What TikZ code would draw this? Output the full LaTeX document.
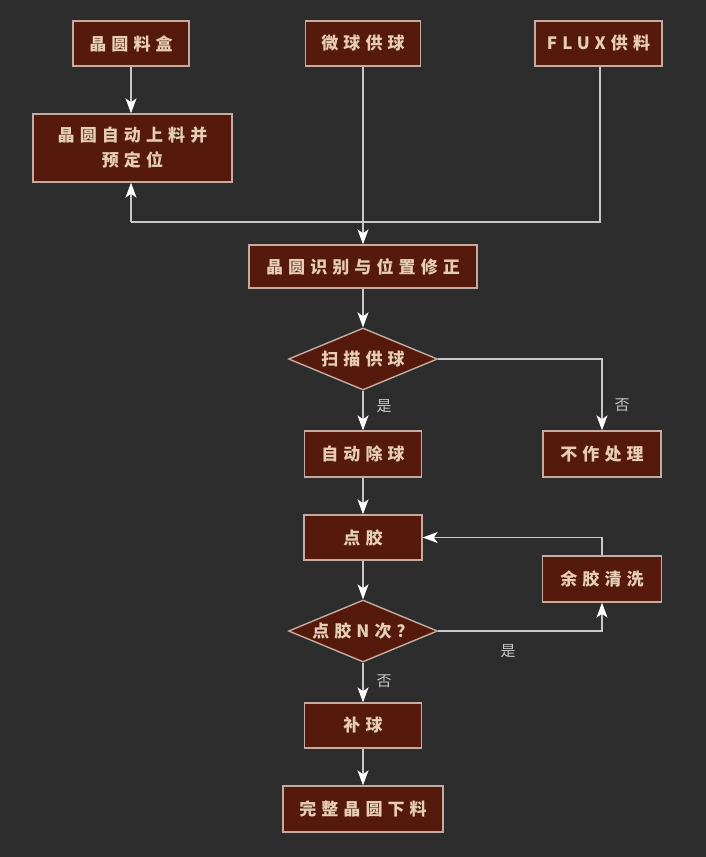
\documentclass[tikz,border=0pt]{standalone}
\usepackage[rgb]{xcolor}
\usepackage{fontspec}
\usepackage{tikz}
\usetikzlibrary{shapes.geometric,arrows.meta}
\newfontfamily\cjk[LetterSpace=30]{Noto Sans CJK SC}
\newfontfamily\cjkthin{Noto Sans CJK SC}
\definecolor{bgdark}{HTML}{2D2D2D}
\definecolor{boxfill}{HTML}{561A0C}
\definecolor{boxline}{HTML}{C4ACA0}
\definecolor{boxtext}{HTML}{E6CDB8}
\definecolor{wire}{HTML}{C8C8C8}

\begin{document}
\begin{tikzpicture}[x=1pt, y=-1pt,
  stepbox/.style={draw=boxline, fill=boxfill, line width=1.4pt, inner sep=0pt,
    text=boxtext, font=\cjk\bfseries\fontsize{17}{25}\selectfont, align=center},
  choice/.style={stepbox, shape=diamond, aspect=2.4, minimum width=149pt, minimum height=62pt},
  flow/.style={draw=wire, line width=1.1pt, -{Stealth[length=15pt, width=11pt, inset=4pt, color=white]}},
  plain/.style={draw=wire, line width=1.1pt},
  answer/.style={text=wire, font=\cjkthin\fontsize{15}{16}\selectfont, inner sep=0pt}]

% background and frame
\fill[bgdark] (0,0) rectangle (706,857);
\useasboundingbox (0,0) rectangle (706,857);

% supply boxes
\path
(131,43.5) node[stepbox, minimum width=116pt, minimum height=45pt] (wbox) {晶圆料盒}
(363,43.5) node[stepbox, minimum width=115pt, minimum height=45pt] (ball) {微球供球}
(598.5,43.5) node[stepbox, minimum width=127pt, minimum height=45pt] (flux) {FLUX供料}
(132.5,148) node[stepbox, minimum width=199pt, minimum height=68pt] (load) {晶圆自动上料并\\预定位};

% wafer path
\path
(363,266.5) node[stepbox, minimum width=228pt, minimum height=43pt] (ident) {晶圆识别与位置修正}
(363,359) node[choice] (scan) {扫描供球}
(363,454) node[stepbox, minimum width=117pt, minimum height=46pt] (remove) {自动除球}
(602,454) node[stepbox, minimum width=118pt, minimum height=46pt] (skip) {不作处理}
(363,537.5) node[stepbox, minimum width=118pt, minimum height=45pt] (glue) {点胶}
(602,579) node[stepbox, minimum width=119pt, minimum height=46pt] (clean) {余胶清洗}
(363,631) node[choice] (count) {点胶N次？}
(363,725.5) node[stepbox, minimum width=117pt, minimum height=45pt] (refill) {补球}
(363,809) node[stepbox, minimum width=160pt, minimum height=46pt] (unload) {完整晶圆下料};

% junction of the supply lines
\coordinate (join) at (363,222);
\coordinate (fluxcorner) at (600,222);
\coordinate (loadcorner) at (131,222);

\draw[flow] (wbox.south) -- (wbox.south |- load.north);
\draw[plain] (ball) -- (join);
\draw[flow] (join) -- (ident);
\draw[plain] (flux.south -| fluxcorner) -- (fluxcorner) -- (loadcorner);
\draw[flow] (loadcorner) -- (loadcorner |- load.south);

\draw[flow] (ident) -- (scan);
\draw[flow] (scan) -- (remove);
\draw[flow] (scan.east) -| (skip.north);
\draw[flow] (remove) -- (glue);
\draw[flow] (glue) -- (count);
\draw[flow] (count.east) -| (clean.south);
\draw[flow] (clean.north) |- (glue.east);
\draw[flow] (count) -- (refill);
\draw[flow] (refill) -- (unload);

% yes / no labels
\path
(384,406) node[answer] (yes1) {是}
(622,405) node[answer] (no1) {否}
(508,651) node[answer] (yes2) {是}
(384,681) node[answer] (no2) {否};

\end{tikzpicture}
\end{document}
